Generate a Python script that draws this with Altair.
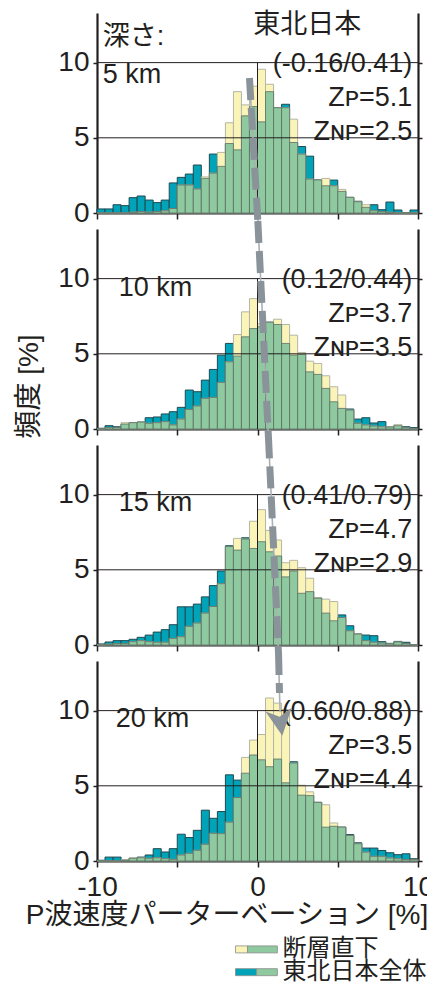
import altair as alt
import pandas as pd

# ---------------- data ----------------
BIN_LEFT = [-10.0, -9.5, -9.0, -8.5, -8.0, -7.5, -7.0, -6.5, -6.0, -5.5,
            -5.0, -4.5, -4.0, -3.5, -3.0, -2.5, -2.0, -1.5, -1.0, -0.5,
            0.0, 0.5, 1.0, 1.5, 2.0, 2.5, 3.0, 3.5, 4.0, 4.5,
            5.0, 5.5, 6.0, 6.5, 7.0, 7.5, 8.0, 8.5, 9.0, 9.5]

# 東北日本全体 (teal) frequency [%]
TOHOKU_5 = [0.27, 0.27, 0.55, 0.49, 1.02, 1.13, 0.86, 0.69, 0.86, 2.0,
            2.37, 2.59, 3.19, 2.3, 3.92, 3.1, 4.62, 4.2, 6.46, 7.08,
            6.06, 8.07, 7.0, 7.23, 4.69, 4.42, 3.78, 2.2, 1.81, 2.19,
            1.44, 1.04, 0.78, 0.38, 0.55, 0.22, 0.73, 0.2, 0.0, 0.2]
TOHOKU_10 = [0.05, 0.22, 0.15, 0.33, 0.42, 0.46, 0.75, 0.8, 1.0, 1.15,
             1.44, 2.59, 2.48, 3.25, 3.96, 4.91, 5.69, 4.85, 6.13, 6.68,
             6.8, 7.1, 6.95, 5.69, 4.91, 4.96, 3.8, 3.63, 2.7, 1.81,
             1.37, 1.33, 0.66, 0.75, 0.4, 0.49, 0.13, 0.22, 0.15, 0.09]
TOHOKU_15 = [0.07, 0.2, 0.29, 0.29, 0.38, 0.51, 0.66, 0.86, 1.02, 1.35,
             2.54, 2.54, 2.72, 3.2, 3.95, 4.92, 6.6, 6.31, 7.13, 6.42,
             6.87, 6.2, 5.92, 4.53, 4.92, 3.44, 3.55, 3.11, 2.12, 1.61,
             2.0, 1.28, 0.73, 0.66, 0.62, 0.22, 0.11, 0.24, 0.18, 0.0]
TOHOKU_20 = [0.05, 0.26, 0.26, 0.05, 0.18, 0.26, 0.4, 0.82, 0.6, 0.82,
             1.78, 1.56, 2.04, 3.38, 2.84, 3.29, 5.73, 5.38, 5.84, 7.05,
             6.73, 6.27, 6.78, 5.2, 6.6, 4.38, 4.35, 3.9, 2.25, 2.31,
             2.25, 1.76, 1.21, 0.86, 0.86, 0.7, 0.55, 0.42, 0.48, 0.15]

# 断層直下 (yellow) frequency [%]
FAULT_5 = [0.0, 0.0, 0.0, 0.0, 0.05, 0.1, 0.05, 0.1, 0.15, 0.3,
           1.86, 1.86, 1.6, 2.4, 2.65, 4.03, 6.0, 8.07, 7.19, 8.43,
           9.56, 8.56, 7.0, 7.0, 6.24, 3.92, 2.26, 2.2, 2.3, 1.81,
           1.57, 1.04, 0.75, 0.55, 0.15, 0.1, 0.05, 0.0, 0.0, 0.0]
FAULT_10 = [0.0, 0.1, 0.1, 0.42, 0.42, 0.46, 0.38, 0.42, 0.49, 0.27,
            0.66, 1.3, 1.53, 2.04, 2.1, 3.1, 4.47, 6.28, 7.79, 8.67,
            7.0, 7.1, 7.3, 6.95, 6.24, 5.09, 4.51, 4.36, 3.54, 2.81,
            2.26, 1.26, 0.38, 0.27, 0.2, 0.15, 0.13, 0.29, 0.09, 0.0]
FAULT_15 = [0.0, 0.05, 0.1, 0.1, 0.22, 0.29, 0.22, 0.18, 0.18, 0.44,
            0.55, 1.24, 1.46, 2.12, 2.56, 4.08, 6.55, 7.09, 7.05, 8.23,
            9.0, 7.62, 6.98, 5.47, 5.63, 5.14, 4.44, 3.16, 3.05, 2.89,
            1.83, 0.95, 0.73, 0.29, 0.18, 0.13, 0.09, 0.2, 0.1, 0.0]
FAULT_20 = [0.0, 0.0, 0.0, 0.1, 0.2, 0.22, 0.18, 0.22, 0.16, 0.11,
            0.4, 0.51, 0.71, 1.11, 1.84, 1.82, 2.58, 4.22, 6.89, 8.04,
            8.41, 10.84, 10.5, 10.07, 6.52, 5.04, 4.6, 3.9, 3.74, 2.53,
            2.27, 1.7, 1.15, 0.59, 0.31, 0.31, 0.2, 0.15, 0.1, 0.1]

TOHOKU = [TOHOKU_5, TOHOKU_10, TOHOKU_15, TOHOKU_20]
FAULT = [FAULT_5, FAULT_10, FAULT_15, FAULT_20]

DEPTH_LABELS = ["5 km", "10 km", "15 km", "20 km"]
STATS = ["(-0.16/0.41)", "(0.12/0.44)", "(0.41/0.79)", "(0.60/0.88)"]
Z_P = ["5.1", "3.7", "4.7", "3.5"]
Z_NP = ["2.5", "3.5", "2.9", "4.4"]

# trend arrow (x in %, y in frequency units of each panel)
ARROW_X = [[-0.50, 0.02], [0.02, 0.68], [0.68, 1.31], [1.31, 1.37]]
ARROW_Y = [[8.98, -0.53], [13.83, -0.53], [13.87, -0.56], [13.83, 11.17]]
ARROW_STEM_X = [1.37, 1.41]
ARROW_STEM_Y = [11.17, 9.9]
ARROW_HEAD_X = [1.43]
ARROW_HEAD_Y = [9.2]

GRID_Y = [5, 10]
X_TICKS = [-10, -5, 0, 5, 10]
Y_TICKS = [0, 5, 10]
LEGEND_LABELS = ["断層直下", "東北日本全体"]
TITLE_REGION = "東北日本"
DEPTH_WORD = "深さ:"
X_TITLE = "P波速度パーターベーション [%]"
Y_TITLE = "頻度 [%]"

# ---------------- style ----------------
INK = "#231f20"
TEAL = "#00a3b8"
TEAL_EDGE = "#1f4a52"
YELLOW = "#faf4b8"
YELLOW_EDGE = "#b5b5a6"
GREEN = "#8ec99f"
GREEN_EDGE = "#5d6e63"
ARROW_C = "#8a9399"
ARROW_THIN = "#aab1b6"
FONT = "Liberation Sans, Arial, Noto Sans CJK JP, DejaVu Sans, sans-serif"

W, H = 321, 200
XS = alt.Scale(domain=[-10, 10], nice=False, zero=False)
YS = alt.Scale(domain=[0, 13.3], nice=False, zero=True)

DEPTH_X = [-9.64, -8.64, -8.64, -8.83]
DEPTH_Y = [8.66, 8.84, 8.9, 8.93]
STAT_X = 9.64
STAT_Y = [9.35, 7.1, 4.85]


def x_axis_for(k):
    bottom = k == 3
    kw = dict(
        orient="bottom", values=X_TICKS, grid=False, tickSize=6, tickWidth=1.5,
        tickColor=INK, domainColor=INK, domainWidth=2.2,
        labels=bottom, labelFont=FONT, labelFontSize=28, labelColor=INK,
        labelPadding=6, labelFlush=False,
        labelExpr="abs(datum.value) % 10 == 0 ? '' + datum.value : ''",
    )
    if bottom:
        return alt.Axis(
            **kw, title=X_TITLE, titleFont=FONT, titleFontSize=28,
            titleFontWeight="normal", titleColor=INK,
            titleX=129.5, titleY=54, titleAlign="center", titleBaseline="middle",
        )
    return alt.Axis(**kw, title="")


def make_panel(k):
    XA = x_axis_for(k)

    def X(field):
        return alt.X(field, scale=XS, axis=XA)

    df = pd.DataFrame({"x0": BIN_LEFT, "tohoku": TOHOKU[k], "fault": FAULT[k]})
    base = alt.Chart(df).transform_calculate(
        x1="datum.x0 + 0.5",
        overlap="min(datum.tohoku, datum.fault)",
    )
    left_kwargs = dict(
        orient="left", values=Y_TICKS, grid=False, tickSize=4, tickWidth=1.5,
        tickColor=INK, domainColor=INK, domainWidth=2.2,
        labelFont=FONT, labelFontSize=28, labelColor=INK, labelPadding=4,
        labelFlush=False,
    )
    if k == 1:
        left_axis = alt.Axis(
            **left_kwargs, title=Y_TITLE, titleFont=FONT, titleFontSize=28,
            titleFontWeight="normal", titleColor=INK, titleAngle=270,
            titleX=-68, titleY=157, titleAlign="center", titleBaseline="middle",
        )
    else:
        left_axis = alt.Axis(**left_kwargs, title=None)
    right_axis = alt.Axis(
        orient="right", values=Y_TICKS, grid=False, tickSize=4, tickWidth=1.5,
        tickColor=INK, domainColor=INK, domainWidth=2.2, labels=False, title=None,
    )

    teal = base.mark_bar(fill=TEAL, stroke=TEAL_EDGE, strokeWidth=1).encode(
        x=X("x0:Q"), x2="x1:Q",
        y=alt.Y("tohoku:Q", scale=YS, axis=left_axis), y2=alt.datum(0),
    )
    yellow = base.mark_bar(fill=YELLOW, stroke=YELLOW_EDGE, strokeWidth=1).encode(
        x=X("x0:Q"), x2="x1:Q",
        y=alt.Y("fault:Q", scale=YS, axis=None), y2=alt.datum(0),
    )
    green = base.mark_bar(fill=GREEN, stroke=GREEN_EDGE, strokeWidth=0.8).encode(
        x=X("x0:Q"), x2="x1:Q",
        y=alt.Y("overlap:Q", scale=YS, axis=None), y2=alt.datum(0),
    )
    grid = alt.Chart(pd.DataFrame({"v": GRID_Y})).mark_rule(
        color=INK, strokeWidth=1).encode(
        y=alt.Y("v:Q", scale=YS, axis=right_axis),
    )
    zero = alt.Chart(pd.DataFrame({"x": [0], "y0": [0], "y1": [GRID_Y[-1]]})).mark_rule(
        color=INK, strokeWidth=1).encode(
        x=X("x:Q"),
        y=alt.Y("y0:Q", scale=YS, axis=None), y2="y1:Q",
    )

    stat_df = pd.DataFrame({
        "x": [STAT_X] * 3,
        "y": STAT_Y,
        "t": [STATS[k], "Z\u1d18=" + Z_P[k], "Z\u0274\u1d18=" + Z_NP[k]],
    })
    stats = alt.Chart(stat_df).mark_text(
        align="right", baseline="alphabetic", font=FONT, fontSize=27, color=INK,
    ).encode(
        x=X("x:Q"), y=alt.Y("y:Q", scale=YS, axis=None), text="t:N",
    )
    dl = [DEPTH_LABELS[k]]
    dx = [DEPTH_X[k]]
    dy = [DEPTH_Y[k]]
    if k == 0:
        dl.append(DEPTH_WORD)
        dx.append(DEPTH_X[k])
        dy.append(11.15)
    depth = alt.Chart(pd.DataFrame({"x": dx, "y": dy, "t": dl})).mark_text(
        align="left", baseline="alphabetic", font=FONT, fontSize=27, color=INK,
    ).encode(
        x=X("x:Q"), y=alt.Y("y:Q", scale=YS, axis=None), text="t:N",
    )

    layers = [teal, yellow, green, grid, zero, stats, depth]

    if k == 0:
        region = alt.Chart(pd.DataFrame({"x": [3.1], "y": [11.95], "t": [TITLE_REGION]})).mark_text(
            align="center", baseline="alphabetic", font=FONT, fontSize=27, color=INK,
        ).encode(
            x=X("x:Q"), y=alt.Y("y:Q", scale=YS, axis=None), text="t:N",
        )
        layers.append(region)

    ax = list(ARROW_X[k])
    ay = list(ARROW_Y[k])
    thin_x = ax + (ARROW_STEM_X[1:] if k == 3 else [])
    thin_y = ay + (ARROW_STEM_Y[1:] if k == 3 else [])
    thin = alt.Chart(pd.DataFrame({"x": thin_x, "y": thin_y, "i": list(range(len(thin_x)))})).mark_line(
        color=ARROW_THIN, strokeWidth=1.6, clip=False,
    ).encode(
        x=X("x:Q"), y=alt.Y("y:Q", scale=YS, axis=None), order="i:O",
    )
    dashed = alt.Chart(pd.DataFrame({"x": ax, "y": ay, "i": list(range(len(ax)))})).mark_line(
        color=ARROW_C, strokeWidth=7, strokeDash=[22, 8], strokeCap="butt", clip=False,
    ).encode(
        x=X("x:Q"), y=alt.Y("y:Q", scale=YS, axis=None), order="i:O",
    )
    layers += [thin, dashed]
    if k == 3:
        head = alt.Chart(pd.DataFrame({"x": ARROW_HEAD_X, "y": ARROW_HEAD_Y})).mark_point(
            shape="M-1,-1L0,1L1,-1L0,-0.45Z", filled=True, fill=ARROW_C, strokeWidth=0,
            opacity=1, size=700, angle=352, clip=False,
        ).encode(
            x=X("x:Q"), y=alt.Y("y:Q", scale=YS, axis=None),
        )
        layers.append(head)

    return alt.layer(*layers).resolve_axis(x="shared", y="independent").properties(
        width=W, height=H)


# ---------------- legend ----------------
SW_START, SW_END = -1.37, 1.24
SW_SPLIT = [-0.62, -0.06]
LEFT_COLORS = [YELLOW, TEAL]
leg_rows = []
for r, (lab, split, col) in enumerate(zip(LEGEND_LABELS, SW_SPLIT, LEFT_COLORS)):
    leg_rows.append({"r": r, "row": lab, "x0": SW_START, "x1": split, "fill": col})
    leg_rows.append({"r": r, "row": lab, "x0": split, "x1": SW_END, "fill": GREEN})
leg_df = pd.DataFrame(leg_rows)
ROW_Y = alt.Y("r:Q", axis=None,
              scale=alt.Scale(domain=[-2.96, 1.52], reverse=True, nice=False, zero=False))
leg_bars = alt.Chart(leg_df).mark_bar(size=7, stroke="#8c8c8c", strokeWidth=0.8).encode(
    x=alt.X("x0:Q", scale=XS, axis=None), x2="x1:Q", y=ROW_Y,
    fill=alt.Fill("fill:N", scale=None),
)
leg_text = alt.Chart(pd.DataFrame({"row": LEGEND_LABELS, "r": [0, 1]})).transform_calculate(
    tx="1.55").mark_text(
    align="left", baseline="middle", font=FONT, fontSize=24, color=INK,
).encode(
    x=alt.X("tx:Q", scale=XS, axis=None), y=ROW_Y, text="row:N",
)
legend = alt.layer(leg_bars, leg_text).properties(width=W, height=112)

chart = alt.vconcat(*[make_panel(k) for k in range(4)], legend,
                    spacing=16, bounds="flush").configure_view(
    strokeWidth=0
).properties(padding={"left": 7, "top": 3, "right": -7, "bottom": 0})

chart.save("out.html", embed_options={"renderer": "svg", "actions": False})
